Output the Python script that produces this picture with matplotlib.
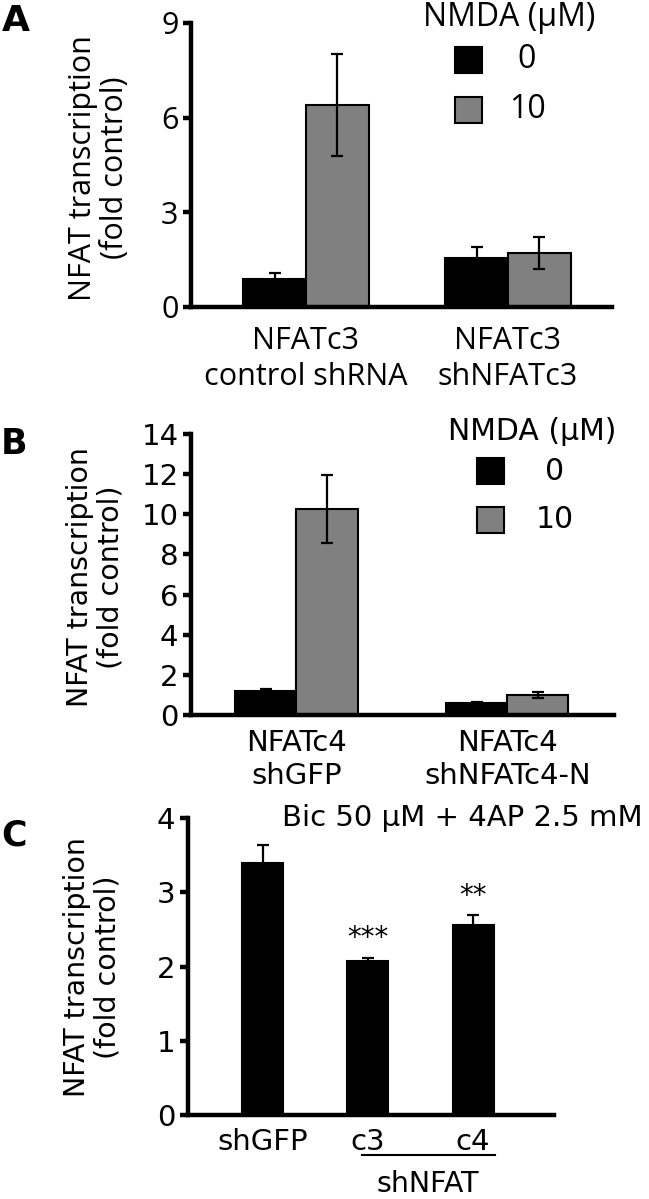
import numpy as np
import matplotlib
matplotlib.use("Agg")
import matplotlib.pyplot as plt
from matplotlib.patches import Rectangle

# panel A - NFATc3 knockdown
groups_a = ["NFATc3\ncontrol shRNA", "NFATc3\nshNFATc3"]
nmda0_a = [0.9, 1.55]
nmda0_err_a = [0.18, 0.35]
nmda10_a = [6.4, 1.72]
nmda10_err_a = [1.62, 0.5]
yticks_a = [0, 3, 6, 9]

# panel B - NFATc4 knockdown
groups_b = ["NFATc4\nshGFP", "NFATc4\nshNFATc4-N"]
nmda0_b = [1.18, 0.6]
nmda0_err_b = [0.1, 0.05]
nmda10_b = [10.25, 1.0]
nmda10_err_b = [1.7, 0.15]
yticks_b = [0, 2, 4, 6, 8, 10, 12, 14]

# panel C - Bic + 4AP
labels_c = ["shGFP", "c3", "c4"]
values_c = [3.4, 2.07, 2.56]
err_c = [0.23, 0.05, 0.13]
stars_c = ["", "***", "**"]
yticks_c = [0, 1, 2, 3, 4]

legend_levels = ["0", "10"]
legend_colors = ["black", "#808080"]
ylab = "NFAT transcription\n(fold control)"

W, H = 649, 1199
fig = plt.figure(figsize=(W / 100, H / 100), dpi=100)


def px_axes(x0, x1, y0, y1):
    # axes from pixel box (top-left origin)
    return fig.add_axes([x0 / W, 1 - y1 / H, (x1 - x0) / W, (y1 - y0) / H])


def style(ax, fam, fs):
    for s in ["top", "right"]:
        ax.spines[s].set_visible(False)
    for s in ["left", "bottom"]:
        ax.spines[s].set_linewidth(3.2)
    ax.tick_params(axis="y", length=6, width=3.2, labelsize=fs, pad=3)
    ax.tick_params(axis="x", length=0, labelsize=fs)
    for t in ax.get_yticklabels() + ax.get_xticklabels():
        t.set_family(fam)


def legend(x, y_title, y0, y1, fam, fs):
    fig.text(x[0] / W, 1 - y_title / H, "NMDA (\u03bcM)", family=fam, fontsize=fs,
             ha="left", va="center")
    for yy, lev, col in zip([y0, y1], legend_levels, legend_colors):
        fig.add_artist(Rectangle((x[1] / W, 1 - (yy + 13) / H), 27 / W, 26 / H,
                                 transform=fig.transFigure, facecolor=col,
                                 edgecolor="black", lw=1.5))
        fig.text(x[2] / W, 1 - yy / H, lev, family=fam, fontsize=fs,
                 ha="center", va="center")


def grouped(ax, groups, v0, e0, v1, e1, w):
    x = np.arange(len(groups))
    ax.bar(x - w / 2, v0, w, color="black", edgecolor="black", lw=1.5)
    ax.bar(x + w / 2, v1, w, color="#808080", edgecolor="black", lw=1.5)
    ax.errorbar(x - w / 2, v0, yerr=e0, fmt="none", ecolor="black",
                elinewidth=1.6, capsize=4.5, capthick=1.6)
    ax.errorbar(x + w / 2, v1, yerr=e1, fmt="none", ecolor="black",
                elinewidth=1.6, capsize=4.5, capthick=1.6)
    ax.set_xticks(x)
    ax.set_xticklabels(groups, linespacing=1.25)


# ---- A ----
famA = "Open Sans"
axA = px_axes(191, 612, 23, 307)
grouped(axA, groups_a, nmda0_a, nmda0_err_a, nmda10_a, nmda10_err_a, 0.31)
axA.set_xlim(-0.569, 1.515)
axA.set_ylim(0, 9)
axA.set_yticks(yticks_a)
style(axA, famA, 22)
axA.tick_params(axis="x", pad=14)
fig.text(99 / W, 1 - 168 / H, ylab, family=famA, fontsize=22, rotation=90,
         ha="center", va="center", linespacing=1.1)
fig.text(2 / W, 1 - 21 / H, "A", family="DejaVu Sans", fontsize=26,
         weight="bold", ha="left", va="center")
legend((423, 455, 527), 17, 60, 110, famA, 23)

# ---- B / C font ----
famB = "DejaVu Sans"

# ---- B ----
axB = px_axes(191, 614, 434, 715)
grouped(axB, groups_b, nmda0_b, nmda0_err_b, nmda10_b, nmda10_err_b, 0.29)
axB.set_xlim(-0.50, 1.506)
axB.set_ylim(0, 14)
axB.set_yticks(yticks_b)
style(axB, famB, 21)
axB.tick_params(axis="x", pad=10)
fig.text(95 / W, 1 - 577 / H, ylab, family=famB, fontsize=20.5, rotation=90,
         ha="center", va="center", linespacing=1.1)
fig.text(1 / W, 1 - 444 / H, "B", family=famB, fontsize=25,
         weight="bold", ha="left", va="center")
legend((448, 477, 555), 432, 471, 520, famB, 21.5)

# ---- C ----
axC = px_axes(188, 554, 818, 1115)
xc = np.arange(len(labels_c))
axC.bar(xc, values_c, 0.39, color="black", edgecolor="black", lw=1.5)
axC.errorbar(xc, values_c, yerr=err_c, fmt="none", ecolor="black",
             elinewidth=1.6, capsize=4.5, capthick=1.6)
for xi, v, e, s in zip(xc, values_c, err_c, stars_c):
    if s:
        axC.text(xi, v + e + 0.07, s, ha="center", va="bottom", fontsize=20,
                 family=famB)
axC.set_xlim(-0.71, 2.77)
axC.set_ylim(0, 4)
axC.set_yticks(yticks_c)
axC.set_xticks(xc)
axC.set_xticklabels(labels_c)
style(axC, famB, 21)
axC.tick_params(axis="x", pad=9)
fig.text(92 / W, 1 - 967 / H, ylab, family=famB, fontsize=20.5, rotation=90,
         ha="center", va="center", linespacing=1.1)
fig.text(1 / W, 1 - 836 / H, "C", family=famB, fontsize=25,
         weight="bold", ha="left", va="center")
fig.text(282 / W, 1 - 818 / H, "Bic 50 \u03bcM + 4AP 2.5 mM", family=famB,
         fontsize=21, ha="left", va="center")
fig.add_artist(plt.Line2D([362 / W, 495 / W], [1 - 1155 / H, 1 - 1155 / H],
                          transform=fig.transFigure, color="black", lw=1.5))
fig.text(428 / W, 1 - 1192 / H, "shNFAT", family=famB, fontsize=20.5,
         ha="center", va="baseline")

fig.savefig("out.png", dpi=100)
